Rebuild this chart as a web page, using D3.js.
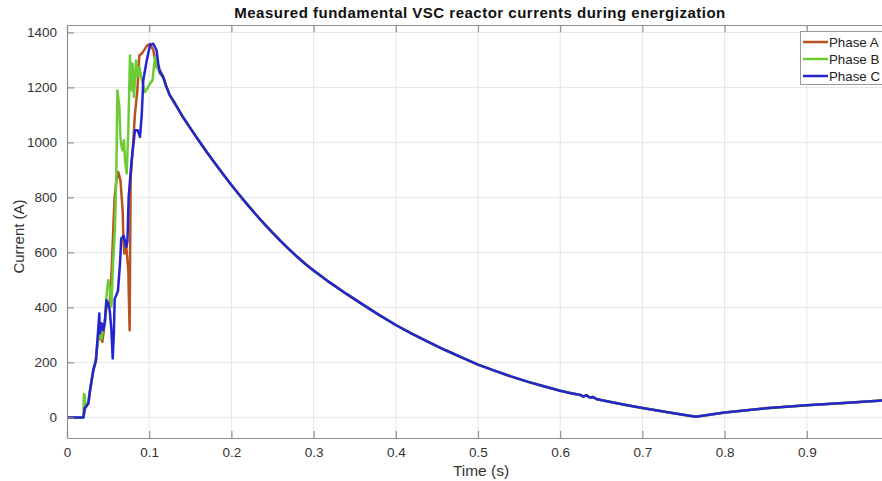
<!DOCTYPE html>
<html>
<head>
<meta charset="utf-8">
<script src="https://cdn.jsdelivr.net/npm/d3@7"></script>
<style>
  html, body { margin: 0; padding: 0; background: #fff; }
  svg { display: block; }
  text { font-family: "Liberation Sans", Arial, Helvetica, sans-serif; }
</style>
</head>
<body>
<svg id="chart" width="882" height="481"></svg>
<script>
// ---------- DATA ----------
const chartTitle = "Measured fundamental VSC reactor currents during energization";
const xLabel = "Time (s)";
const yLabel = "Current (A)";
const seriesNames = ["Phase A", "Phase B", "Phase C"];
const seriesColors = ["#b9521e", "#6dcc35", "#2424d0"];

const xTicks = [0, 0.1, 0.2, 0.3, 0.4, 0.5, 0.6, 0.7, 0.8, 0.9];
const xTickLabels = ["0", "0.1", "0.2", "0.3", "0.4", "0.5", "0.6", "0.7", "0.8", "0.9"];
const yTicks = [0, 200, 400, 600, 800, 1000, 1200, 1400];
const yTickLabels = ["0", "200", "400", "600", "800", "1000", "1200", "1400"];

// Early transient, Phase A (time s, current A)
const phaseATime = [0, 0.020, 0.0215, 0.026, 0.028, 0.032, 0.035, 0.037, 0.040, 0.043, 0.045, 0.048, 0.050, 0.052,
  0.0543, 0.0564, 0.058, 0.060, 0.0624, 0.065, 0.0677, 0.0685, 0.0697, 0.0718, 0.0746, 0.0755, 0.0762, 0.0768,
  0.0775, 0.0807, 0.0827, 0.0856, 0.088, 0.091, 0.095, 0.0977, 0.101, 0.105, 0.109, 0.113, 0.117];
const phaseACurrent = [0, 0, 30, 50, 95, 170, 205, 270, 300, 275, 320, 400, 410, 420,
  535, 693, 802, 860, 892, 862, 753, 656, 596, 632, 535, 402, 317, 600,
  874, 1008, 1105, 1189, 1316, 1323, 1341, 1353, 1359, 1335, 1274, 1262, 1240];

// Early transient, Phase B
const phaseBTime = [0, 0.020, 0.0205, 0.0215, 0.022, 0.026, 0.028, 0.032, 0.035, 0.038, 0.040, 0.042, 0.044, 0.046,
  0.048, 0.050, 0.052, 0.054, 0.056, 0.0584, 0.060, 0.0613, 0.0637, 0.065, 0.0665, 0.0677, 0.0693, 0.0706,
  0.0726, 0.0746, 0.0766, 0.0786, 0.0798, 0.0815, 0.084, 0.0856, 0.088, 0.091, 0.0949, 0.0977, 0.101, 0.104,
  0.107, 0.110, 0.113, 0.117];
const phaseBCurrent = [0, 0, 85, 80, 40, 55, 100, 175, 208, 290, 300, 285, 330, 335,
  438, 499, 470, 402, 560, 693, 874, 1189, 1129, 1020, 983, 971, 1008, 935,
  887, 1044, 1316, 1189, 1286, 1165, 1298, 1238, 1274, 1226, 1183, 1196, 1214, 1226,
  1310, 1274, 1250, 1235];

// Early transient, Phase C
const phaseCTime = [0, 0.020, 0.0215, 0.026, 0.028, 0.032, 0.0353, 0.037, 0.0393, 0.040, 0.042, 0.044, 0.046,
  0.048, 0.050, 0.052, 0.054, 0.0556, 0.057, 0.058, 0.062, 0.0645, 0.066, 0.069, 0.0722, 0.0735, 0.075,
  0.0786, 0.0827, 0.086, 0.0888, 0.091, 0.0928, 0.097, 0.101, 0.105, 0.109, 0.111, 0.113, 0.117];
const phaseCCurrent = [0, 0, 33, 51, 99, 172, 208, 281, 378, 305, 342, 317, 347,
  426, 414, 390, 317, 214, 305, 430, 460, 560, 650, 660, 620, 640, 800,
  935, 1044, 1044, 1020, 1105, 1226, 1298, 1354, 1359, 1335, 1286, 1256, 1238];

// Common decay shared by all three phases after the transient
const tailTime = [0.120, 0.125, 0.130, 0.135, 0.140, 0.150, 0.160, 0.170, 0.180, 0.190,
  0.200, 0.210, 0.220, 0.230, 0.240, 0.250, 0.260, 0.270, 0.280, 0.290,
  0.300, 0.320, 0.340, 0.360, 0.380, 0.400, 0.420, 0.440, 0.460, 0.480,
  0.500, 0.520, 0.540, 0.560, 0.580, 0.600, 0.612, 0.620, 0.624, 0.628, 0.632, 0.636, 0.640, 0.644, 0.648,
  0.660, 0.680, 0.700, 0.720, 0.740, 0.765, 0.800, 0.850, 0.900, 0.950, 1.000];
const tailCurrent = [1210, 1172, 1148, 1123, 1097, 1052, 1008, 965, 924, 884,
  845, 808, 772, 737, 704, 672, 641, 612, 584, 558,
  534, 490, 449, 410, 372, 336, 304, 274, 245, 218,
  192, 170, 149, 130, 113, 97, 89, 84, 82, 76, 80, 72, 74, 67, 64,
  57, 45, 34, 24, 14, 2, 18, 33, 44, 53, 63];

// ---------- BUILD ----------
function zipSeries(t, v) { return t.map((d, i) => ({ t: d, v: v[i] })); }
const tail = zipSeries(tailTime, tailCurrent);
const series = [
  zipSeries(phaseATime, phaseACurrent).concat(tail),
  zipSeries(phaseBTime, phaseBCurrent).concat(tail),
  zipSeries(phaseCTime, phaseCCurrent).concat(tail)
];

const svg = d3.select("#chart");
const W = 882, H = 481;
const pLeft = 67, pRight = 889, pTop = 25, pBottom = 438;

svg.append("rect").attr("width", W).attr("height", H).attr("fill", "#fff");

const x = d3.scaleLinear().domain([0, 1]).range([pLeft, pRight]);
const y = d3.scaleLinear().domain([-75, 1427]).range([pBottom, pTop]);

// grid
const grid = svg.append("g");
grid.selectAll("line.vg").data(xTicks.filter(d => d > 0)).enter().append("line")
  .attr("x1", d => x(d)).attr("x2", d => x(d)).attr("y1", pTop).attr("y2", pBottom)
  .attr("stroke", "#e6e6e6").attr("stroke-width", 1);
grid.selectAll("line.hg").data(yTicks).enter().append("line")
  .attr("x1", pLeft).attr("x2", pRight).attr("y1", d => y(d)).attr("y2", d => y(d))
  .attr("stroke", "#e6e6e6").attr("stroke-width", 1);

// clip
svg.append("clipPath").attr("id", "plotclip").append("rect")
  .attr("x", pLeft).attr("y", pTop).attr("width", pRight - pLeft).attr("height", pBottom - pTop);

// lines
const line = d3.line().x(d => x(d.t)).y(d => y(d.v)).curve(d3.curveLinear);
const lines = svg.append("g").attr("clip-path", "url(#plotclip)");
series.forEach((s, i) => {
  lines.append("path").datum(s).attr("d", line)
    .attr("fill", "none").attr("stroke", seriesColors[i])
    .attr("stroke-width", 2.5).attr("stroke-linejoin", "round");
});

// axes
const axisColor = "#8f8f8f";
const xAxis = d3.axisBottom(x).tickValues(xTicks).tickFormat((d, i) => xTickLabels[i])
  .tickSizeInner(-7).tickSizeOuter(0).tickPadding(9);
const gx = svg.append("g").attr("transform", `translate(0,${pBottom})`).call(xAxis);
const xTopAxis = d3.axisTop(x).tickValues(xTicks).tickFormat("")
  .tickSizeInner(-7).tickSizeOuter(0);
const gxt = svg.append("g").attr("transform", `translate(0,${pTop})`).call(xTopAxis);
const yAxis = d3.axisLeft(y).tickValues(yTicks).tickFormat((d, i) => yTickLabels[i])
  .tickSizeInner(-7).tickSizeOuter(0).tickPadding(10);
const gy = svg.append("g").attr("transform", `translate(${pLeft},0)`).call(yAxis);

[gx, gxt, gy].forEach(g => {
  g.select(".domain").attr("stroke", axisColor).attr("stroke-width", 1.2);
  g.selectAll(".tick line").attr("stroke", axisColor).attr("stroke-width", 1.2);
  g.selectAll(".tick text").attr("fill", "#333").attr("font-size", 13.5)
    .attr("font-family", "'Liberation Sans', Arial, sans-serif");
});

// title and labels
svg.append("text").attr("x", 480).attr("y", 18).attr("text-anchor", "middle")
  .attr("font-size", 15).attr("letter-spacing", 0.5).attr("font-weight", "bold").attr("fill", "#111").text(chartTitle);
svg.append("text").attr("x", 481).attr("y", 476).attr("text-anchor", "middle")
  .attr("font-size", 15.5).attr("fill", "#333").text(xLabel);
svg.append("text").attr("transform", `translate(24,${(pTop + pBottom) / 2 + 5}) rotate(-90)`)
  .attr("text-anchor", "middle").attr("font-size", 15).attr("fill", "#333").text(yLabel);

// legend
const lg = svg.append("g");
lg.append("rect").attr("x", 800.5).attr("y", 31.5).attr("width", 90).attr("height", 53)
  .attr("fill", "#fff").attr("stroke", "#9a9a9a").attr("stroke-width", 1);
seriesNames.forEach((n, i) => {
  const yy = 42 + i * 17;
  lg.append("line").attr("x1", 803).attr("x2", 828).attr("y1", yy).attr("y2", yy)
    .attr("stroke", seriesColors[i]).attr("stroke-width", 2.5);
  lg.append("text").attr("x", 829).attr("y", yy + 4.5).attr("font-size", 13.3)
    .attr("fill", "#222").text(n);
});
</script>
</body>
</html>
